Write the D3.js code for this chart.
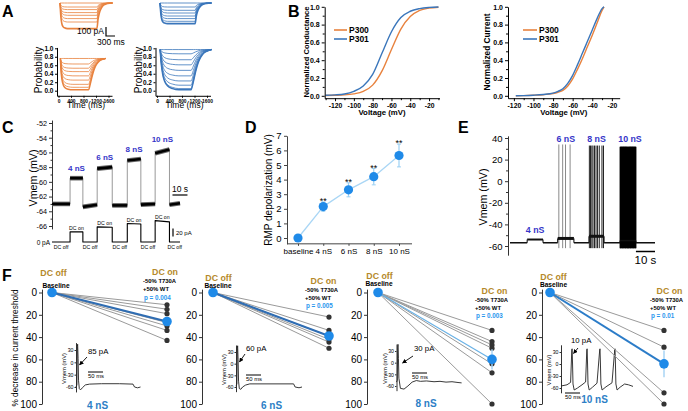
<!DOCTYPE html>
<html><head><meta charset="utf-8">
<script src="https://cdn.jsdelivr.net/npm/d3@7/dist/d3.min.js"></script>
<style>html,body{margin:0;padding:0;background:#fff;}svg{display:block;}</style>
</head><body>
<svg id="chart" width="688" height="411"></svg>
<script>
// ================= DATA =================
// Panel A
const aOrangeCurrent = [0,-40,-66,-96,-123,-156,-190,-256];
const aBlueCurrent   = [0,-40,-73,-100,-130,-156,-183,-206];
const aCurOnsetT = [0,30,60,100,150,250];
const aCurOnsetF = [0,0.55,0.8,0.92,0.97,1];
const aCurTailT  = [0,40,80,130,180,260,360,520];
const aCurTailF  = [1,0.62,0.4,0.24,0.14,0.06,0.02,0];
const aOrangeProb = [0.76,0.63,0.53,0.45,0.35,0.25,0.15,0.08,0.02];
const aBlueProb   = [0.97,0.87,0.73,0.61,0.48,0.35,0.23,0.13,0.05,0.02];
const aProbOnsetT = [0,30,60,100,150,250,400,600];
const aOrangeOnsetF = [0,0.5,0.72,0.86,0.93,0.98,1,1];
const aBlueOnsetF   = [0,0.3,0.5,0.68,0.8,0.91,0.97,1];
const aProbTailT = [0,60,120,180,250,350,450,550];
const aProbTailF = [1,0.8,0.55,0.35,0.2,0.08,0.03,0];
const aProbTicks = [0,0.2,0.4,0.6,0.8,1.0];
const aTimeTicks = [0,400,800,1200,1600];

// Panel B
const bVolt = [-130,-120,-110,-100,-90,-80,-70,-60,-50,-40,-30,-20,-10];
const bCondP300 = [0.004,0.006,0.01,0.022,0.05,0.12,0.28,0.52,0.75,0.89,0.96,0.985,0.995];
const bCondP301 = [0.006,0.01,0.02,0.05,0.11,0.24,0.48,0.72,0.88,0.95,0.98,0.993,0.998];
const bCurVolt = [-118,-110,-100,-90,-80,-75,-70,-65,-60,-55,-50,-45,-40,-35,-30,-28];
const bCurP300 = [0,0.002,0.006,0.012,0.026,0.04,0.06,0.11,0.19,0.3,0.42,0.55,0.68,0.82,0.96,1.0];
const bCurP301 = [0,0.002,0.007,0.015,0.03,0.05,0.08,0.14,0.23,0.35,0.48,0.61,0.74,0.87,0.98,1.0];
const bYTicks = [0,0.2,0.4,0.6,0.8,1.0];
const bXTicks = [-120,-100,-80,-60,-40,-20];
const bSeries = ["P300","P301"];

// Panel C
const cSegStart = [0,12,20.5,30,40,50,59,68.5,78];
const cSegEnd   = [12,20.5,30,40,50,59,68.5,78,85];
const cVStart = [-63,-59.5,-63.4,-58.2,-63.2,-57.1,-63.1,-56.1,-63.1];
const cVEnd   = [-63,-59.5,-63.1,-58.0,-63.2,-56.9,-63.0,-55.6,-62.9];
const cIStart = [0,24,0,36,0,44,0,51,0];
const cIEnd   = [0,24,0,35,0,43,0,48,0];
const cStepLabels = ["","4 nS","","6 nS","","8 nS","","10 nS",""];
const cYTicks = [-66,-64,-62,-60,-58,-56,-54,-52];

// Panel D
const dCats = ["baseline","4 nS","6 nS","8 nS","10 nS"];
const dMean = [0,2.15,3.3,4.2,5.65];
const dErr  = [0,0.32,0.48,0.56,0.78];
const dSig  = ["","**","**","**","**"];
const dYTicks = [0,1,2,3,4,5,6,7];

// Panel E
const eSegStart = [0,9,17.3,25,33.5,41.4,49.3,57.7,66];
const eSegEnd   = [9,17.3,25,33.5,41.4,49.3,57.7,66,76];
const eVmem     = [-57,-54,-57,-53,-57,-51,-57,-55,-57];
const eStepLabels = ["","4 nS","","6 nS","","8 nS","","10 nS",""];
const eSpikes6  = [25.6,27.6,29.1,31.5];
const eSpikes8  = [41.6,42.2,42.9,43.5,44.3,45.1,45.9,46.8,48.2,49.0];
const eSpikes10 = [57.8,58.1,58.4,58.8,59.1,59.4,59.7,60.1,60.4,60.7,61.0,61.4,61.7,62.0,62.3,62.7,63.0,63.3,63.6,64.0,64.3,64.6,64.9,65.3,65.6,65.9];
const eYTicks = [-60,-40,-20,0,20,40];

// Panel F
const fGroups = ["4 nS","6 nS","8 nS","10 nS"];
const fCells = [[11,15,19,27,30,34,43],[22,34,39,42,44.5,50],[34,44,47,50,64,72,100],[34,49,90,100]];
const fMean = [26,39,60,64];
const fErr  = [3,3,9,12];
const fP    = ["p = 0.004","p = 0.005","p = 0.003","p = 0.01"];
const fThresh = ["85 pA","60 pA","30 pA","10 pA"];
const fYTicks = [0,20,40,60,80,100];
const fInsetTicks = [30,0,-30,-60];
const fInset1 = [[0,-60],[3,-55],[4.5,38],[5.5,44],[7,10],[8.5,-45],[11,-64],[15,-67],[21,-62],[31,-55],[45,-53],[85,-52],[145,-52],[190,-53],[195,-60],[205,-62],[215,-60]];
const fInset2 = [[0,-58],[3,-52],[4.5,40],[5.5,46],[7,10],[8.5,-45],[11,-64],[16,-66],[22,-60],[32,-55],[46,-52],[120,-52],[192,-52],[197,-60],[210,-62],[220,-60]];
const fInset3 = [[0,-50],[2.5,-45],[4,40],[5,47],[6.5,10],[8,-40],[13,-66],[25,-68],[38,-60],[52,-50],[66,-46],[80,-48],[100,-47],[125,-49],[145,-48],[165,-50],[185,-49],[205,-51],[217,-52]];
const fInset4 = [[0,-55],[20,-52],[32,-46],[36,35],[37,38],[38.5,0],[40,-50],[44,-65],[55,-60],[70,-52],[82,-45],[86,35],[87,38],[88.5,0],[90,-50],[94,-65],[105,-58],[120,-48],[129,35],[130,38],[131.5,0],[133,-50],[137,-65],[150,-57],[170,-47],[179,35],[180,38],[181.5,0],[183,-50],[187,-65],[197,-58],[212,-50],[225,-52],[240,-56]];
const fInsets = [fInset1,fInset2,fInset3,fInset4];

// ================= DRAWING =================
const FONT = "Arial, 'Liberation Sans', Helvetica, sans-serif";
const ORANGE = "#e8823e", BLUE = "#3a76bb";
const NS_BLUE = "#3535c8", GOLD = "#b5892a", F_BLUE = "#2a96ee", MEAN_BLUE = "#1f8ae8";
const svg = d3.select("#chart").attr("font-family", FONT);
svg.append("rect").attr("width",688).attr("height",411).attr("fill","#fff");

function addText(x,y,s,o={}){
  const t = svg.append("text").attr("x",x).attr("y",y).text(s)
    .attr("font-size",o.size||10).attr("font-weight",o.bold?"bold":"normal")
    .attr("fill",o.fill||"#000").attr("text-anchor",o.anchor||"start").attr("font-family",FONT);
  if(o.rot) t.attr("transform",`rotate(-90,${x},${y})`);
  return t;
}
function drawPath(pts,xs,ys,o={}){
  const gen = d3.line().x(d=>xs(d[0])).y(d=>ys(d[1]));
  if(o.curve) gen.curve(o.curve);
  return svg.append("path").attr("d",gen(pts)).attr("fill","none")
    .attr("stroke",o.color||"#000").attr("stroke-width",o.w||1)
    .attr("stroke-linejoin","round").attr("stroke-linecap",o.cap||"butt");
}
function axisG(axis,tx,ty,o={}){
  const g = svg.append("g").attr("transform",`translate(${tx},${ty})`).call(axis);
  g.attr("font-family",FONT).attr("font-size",o.size||10).attr("font-weight",o.bold?"bold":"normal");
  g.selectAll("text").attr("fill","#000");
  g.selectAll("line,path").attr("stroke",o.color||"#000").attr("stroke-width",o.sw||1);
  if(o.noDomain) g.select(".domain").remove();
  return g;
}
function leftAxis(scale,x,ticks,fmt,o={}){
  const a = d3.axisLeft(scale).tickValues(ticks).tickSize(o.ts==null?3:o.ts).tickSizeOuter(0).tickPadding(o.pad==null?2:o.pad).tickFormat(fmt);
  axisG(a,x,0,o);
  if(o.minor){
    const m = d3.axisLeft(scale).tickValues(o.minor).tickSize(o.mts||1.5).tickSizeOuter(0).tickFormat("");
    axisG(m,x,0,Object.assign({},o,{noDomain:true}));
  }
}
function bottomAxis(scale,y,ticks,fmt,o={}){
  const a = d3.axisBottom(scale).tickValues(ticks).tickSize(o.ts==null?3:o.ts).tickSizeOuter(0).tickPadding(o.pad==null?2:o.pad).tickFormat(fmt);
  axisG(a,0,y,o);
  if(o.minor){
    const m = d3.axisBottom(scale).tickValues(o.minor).tickSize(o.mts||1.5).tickSizeOuter(0).tickFormat("");
    axisG(m,0,y,Object.assign({},o,{noDomain:true}));
  }
}
const str = d => String(d);

// ---------- Panel A ----------
addText(2,17,"A",{size:16,bold:true});
function drawCurrents(levels,x0,stepMs,tailScale,color){
  const xs = d3.scaleLinear().domain([0,1000]).range([x0,x0+30]);
  const ys = d3.scaleLinear().domain([0,-100]).range([3,13]);
  levels.forEach((L,i)=>{
    const pts = [];
    aCurOnsetT.forEach((t,k)=>pts.push([t,L*aCurOnsetF[k]]));
    pts.push([stepMs,L]);
    aCurTailT.slice(1).forEach((t,k)=>pts.push([stepMs+t*tailScale,L*aCurTailF[k+1]]));
    drawPath(pts,xs,ys,{color,w:i===levels.length-1?1.6:0.8,curve:d3.curveMonotoneX});
  });
}
drawCurrents(aOrangeCurrent,60,1230,1.0,ORANGE);
drawCurrents(aBlueCurrent,160,1170,1.05,BLUE);
svg.append("path").attr("d","M106,27V36H115").attr("fill","none").attr("stroke","#000").attr("stroke-width",1.2);
addText(104,34,"100 pA",{size:8.5,anchor:"end"});
addText(97,44.5,"300 ms",{size:8.5});

function probPanel(levels,onsetF,axisX,tStart,tEnd,tailScale,color,titleX){
  const xs = d3.scaleLinear().domain([0,1600]).range([axisX+1.5,axisX+51.5]);
  const ys = d3.scaleLinear().domain([0,1]).range([90.7,48.3]);
  const p0 = levels[0];
  levels.forEach((L,i)=>{
    const pts = [];
    aProbOnsetT.forEach((t,k)=>pts.push([tStart+t,p0+(L-p0)*onsetF[k]]));
    pts.push([tEnd,L]);
    aProbTailT.slice(1).forEach((t,k)=>pts.push([tEnd+t*tailScale,L+(p0-L)*(1-aProbTailF[k+1])]));
    drawPath(pts,xs,ys,{color,w:(i===levels.length-1)?1.5:0.8,curve:d3.curveMonotoneX});
  });
  const yAx = d3.scaleLinear().domain([-0.12,1.02]).range([ys(-0.12),ys(1.02)]);
  leftAxis(yAx,axisX,aProbTicks,d3.format(".1f"),{size:6.5,bold:true,ts:2,pad:1.5});
  const xAx = d3.scaleLinear().domain([xs.invert(axisX),xs.invert(axisX+55)]).range([axisX,axisX+55]);
  bottomAxis(xAx,ys(-0.12),aTimeTicks,str,{size:4.9,bold:true,ts:2,pad:1.5});
  addText(titleX,70,"Probability",{size:10,rot:true,anchor:"middle"});
  addText(axisX+29,108,"Time (ms)",{size:8.5,anchor:"middle"});
}
probPanel(aOrangeProb,aOrangeOnsetF,57,60,960,1.0,ORANGE,42);
probPanel(aBlueProb,aBlueOnsetF,155.5,100,1090,1.2,BLUE,141.5);

// ---------- Panel B ----------
addText(288,16.5,"B",{size:16,bold:true});
function bPanel(volt,s1,s2,xDom,xRange,ytitle,ytitleX,ytSize,legX,legX2){
  const xs = d3.scaleLinear().domain(xDom).range(xRange);
  const ys = d3.scaleLinear().domain([0,1]).range([95.8,6.8]);
  drawPath(volt.map((v,i)=>[v,s1[i]]),xs,ys,{color:ORANGE,w:1.4,curve:d3.curveMonotoneX});
  drawPath(volt.map((v,i)=>[v,s2[i]]),xs,ys,{color:BLUE,w:1.4,curve:d3.curveMonotoneX});
  const yAx = d3.scaleLinear().domain([-0.027,1.0]).range([ys(-0.027),ys(1.0)]);
  leftAxis(yAx,xRange[0],bYTicks,d3.format(".1f"),{size:7,bold:true,ts:3,pad:2,minor:[0.1,0.3,0.5,0.7,0.9],mts:2});
  const minorX = d3.range(Math.ceil(xDom[0]/10)*10, xDom[1], 10).filter(v=>v%20!==0);
  bottomAxis(xs,ys(-0.027),bXTicks,str,{size:6.8,bold:true,ts:3,pad:2,minor:minorX,mts:2});
  addText(ytitleX,52,ytitle,{size:ytSize,bold:true,rot:true,anchor:"middle"});
  addText((xRange[0]+xRange[1])/2,114.5,"Voltage (mV)",{size:7.8,bold:true,anchor:"middle"});
  [ORANGE,BLUE].forEach((c,i)=>{
    const y = 30+i*9;
    svg.append("line").attr("x1",legX).attr("x2",legX2).attr("y1",y).attr("y2",y).attr("stroke",c).attr("stroke-width",1.6);
    addText(legX2+2,y+3,bSeries[i],{size:8.5,bold:true});
  });
}
bPanel(bVolt,bCondP300,bCondP301,[-131,-9],[324.7,439.4],"Normalized Conductance",308.5,7.6,334,347);
bPanel(bCurVolt,bCurP300,bCurP301,[-126,-12],[508,619.7],"Normalized Current",490,8.3,523,537);

// ---------- Panel C ----------
addText(2,133,"C",{size:16,bold:true});
{
  const xs = d3.scaleLinear().domain([0,85]).range([52,180]);
  const ys = d3.scaleLinear().domain([-66,-52]).range([226,123]);
  const yAx = d3.scaleLinear().domain([-66.4,-51.6]).range([ys(-66.4),ys(-51.6)]);
  leftAxis(yAx,52,cYTicks,str,{size:7.2,ts:3,pad:2,minor:[-65,-63,-61,-59,-57,-55,-53],mts:1.5,color:"#333"});
  addText(37,178,"Vmem (mV)",{size:10.7,rot:true,anchor:"middle"});
  for(let i=1;i<cSegStart.length;i++){
    drawPath([[cSegStart[i],cVEnd[i-1]],[cSegStart[i],cVStart[i]]],xs,ys,{color:"#999",w:1});
  }
  cSegStart.forEach((s,i)=>{
    drawPath([[s,cVStart[i]],[cSegEnd[i],cVEnd[i]]],xs,ys,{color:"#666",w:4.6});
    drawPath([[s,cVStart[i]],[cSegEnd[i],cVEnd[i]]],xs,ys,{color:"#000",w:2.6});
    if(cStepLabels[i]) addText(xs((s+cSegEnd[i])/2),ys(Math.max(cVStart[i],cVEnd[i]))-7.5,cStepLabels[i],{size:8,bold:true,fill:NS_BLUE,anchor:"middle"});
  });
  const yi = d3.scaleLinear().domain([0,50]).range([242,221]);
  const ipts = [];
  cSegStart.forEach((s,i)=>{ ipts.push([s,cIStart[i]]); ipts.push([cSegEnd[i],cIEnd[i]]); });
  drawPath(ipts,xs,yi,{color:"#000",w:1.1});
  cSegStart.forEach((s,i)=>{
    const cx = xs((s+cSegEnd[i])/2);
    if(cIStart[i]>0) addText(cx,yi(Math.max(cIStart[i],cIEnd[i]))-2,"DC on",{size:5.2,anchor:"middle"});
    else addText(cx,yi(0)+6.5,"DC off",{size:5.2,anchor:"middle"});
  });
  addText(50,244.5,"0 pA",{size:6.5,anchor:"end"});
  svg.append("line").attr("x1",xs(80)).attr("x2",xs(80)+15).attr("y1",195).attr("y2",195).attr("stroke","#000").attr("stroke-width",1.2);
  addText(xs(80)+7.5,191.5,"10 s",{size:8.5,anchor:"middle"});
  svg.append("line").attr("x1",173).attr("x2",173).attr("y1",228.5).attr("y2",236.5).attr("stroke","#000").attr("stroke-width",1.2);
  addText(176,235,"20 pA",{size:6});
}

// ---------- Panel D ----------
addText(245,133,"D",{size:16,bold:true});
{
  const xs = d3.scalePoint().domain(dCats).range([298,399]);
  const ys = d3.scaleLinear().domain([0,7]).range([238,135.8]);
  const yAx = d3.scaleLinear().domain([-0.4,7]).range([ys(-0.4),ys(7)]);
  leftAxis(yAx,287,dYTicks,str,{size:9.5,ts:3,pad:2.5,color:"#444"});
  svg.append("line").attr("x1",287).attr("x2",412).attr("y1",ys(-0.4)).attr("y2",ys(-0.4)).attr("stroke","#444");
  const xa = d3.axisBottom(xs).tickSize(2).tickSizeOuter(0).tickPadding(2);
  const g = axisG(xa,0,ys(-0.4),{size:8,color:"#444"});
  g.select(".domain").remove();
  addText(272,190,"RMP depolarization (mV)",{size:10,rot:true,anchor:"middle"});
  drawPath(dCats.map((c,i)=>[c,dMean[i]]),xs,ys,{color:"#a9d6f5",w:1.3});
  dCats.forEach((c,i)=>{
    if(dErr[i]>0){
      drawPath([[c,dMean[i]-dErr[i]],[c,dMean[i]+dErr[i]]],xs,ys,{color:"#9cd0f3",w:1.2});
      [dMean[i]+dErr[i],dMean[i]-dErr[i]].forEach(v=>{
        svg.append("line").attr("x1",xs(c)-2).attr("x2",xs(c)+2).attr("y1",ys(v)).attr("y2",ys(v)).attr("stroke","#9cd0f3");
      });
    }
    svg.append("circle").attr("cx",xs(c)).attr("cy",ys(dMean[i])).attr("r",4.6).attr("fill",MEAN_BLUE);
    if(dSig[i]) addText(xs(c),ys(dMean[i]+dErr[i])+2,dSig[i],{size:9,anchor:"middle"});
  });
}

// ---------- Panel E ----------
addText(458,133,"E",{size:16,bold:true});
{
  const xs = d3.scaleLinear().domain([0,76]).range([510,655]);
  const ys = d3.scaleLinear().domain([-60,40]).range([246,138]);
  const yAx = d3.scaleLinear().domain([-68.5,42]).range([ys(-68.5),ys(42)]);
  leftAxis(yAx,508,eYTicks,str,{size:9.5,ts:3,pad:2.5,minor:[-50,-30,-10,10,30],mts:2,color:"#333"});
  addText(487,197,"Vmem (mV)",{size:10.7,rot:true,anchor:"middle"});
  const spikeSets = [[eSpikes6,"#8a8a8a",1,34],[eSpikes8,"#222",1,33],[eSpikes10,"#000",1.4,32]];
  spikeSets.forEach(([arr,col,w,top])=>{
    arr.forEach(t=>drawPath([[t,-62],[t,top]],xs,ys,{color:col,w}));
  });
  for(let i=1;i<eSegStart.length;i++){
    drawPath([[eSegStart[i],eVmem[i-1]],[eSegStart[i],eVmem[i]]],xs,ys,{color:"#000",w:1});
  }
  eSegStart.forEach((s,i)=>{
    const w = (i===3||i===5)?3:(i===1?2:1.5);
    drawPath([[s,eVmem[i]],[eSegEnd[i],eVmem[i]]],xs,ys,{color:"#111",w});
    if(eStepLabels[i]){
      const y = i===1 ? ys(eVmem[i])-7 : 141.5;
      addText(xs((s+eSegEnd[i])/2)+(i===7?2:0),y,eStepLabels[i],{size:8.8,bold:true,fill:NS_BLUE,anchor:"middle"});
    }
  });
  svg.append("line").attr("x1",xs(66)).attr("x2",xs(76)).attr("y1",251.5).attr("y2",251.5).attr("stroke","#000").attr("stroke-width",1.5);
  addText(xs(71),264,"10 s",{size:11.5,anchor:"middle"});
}

// ---------- Panel F ----------
addText(2,281,"F",{size:16,bold:true});
const fLayout = [
  {ax:42, bx:52, ox:167, offX:53.5, offY:276, blX:56, blY:288, onX:165, onY:275, txX:143, txY:283, lx:97.5, ly:409,
   ix:76, i30:350, i60:387, tx:88, ty:354, ar:[87,357,79.5,365], sb:[88,372,378]},
  {ax:202, bx:213, ox:329, offX:218.5, offY:281, blX:218, blY:288, onX:323.5, onY:284, txX:305, txY:291.7, lx:271.5, ly:409,
   ix:236, i30:352, i60:387, tx:246, ty:351, ar:[245,354,239.5,362], sb:[246,375,381]},
  {ax:367, bx:378, ox:492, offX:379.5, offY:279, blX:379, blY:285.7, onX:494.5, onY:294, txX:475, txY:301.7, lx:426, ly:406.7,
   ix:396.5, i30:351, i60:386, tx:414, ty:351, ar:[413,356,402.5,363], sb:[412,373,379]},
  {ax:542, bx:550, ox:664, offX:553.5, offY:280, blX:553.5, blY:286.7, onX:669.5, onY:294, txX:650, txY:301.7, lx:594.5, ly:403,
   ix:561, i30:352, i60:388, tx:571, ty:343, ar:[578,348,573.5,353.5], sb:[565,393,398.5]}
];
addText(18,348,"% decrease in current threshold",{size:8.3,rot:true,anchor:"middle"});
svg.append("defs").append("marker").attr("id","arr").attr("viewBox","0 0 10 10").attr("refX",9).attr("refY",5)
  .attr("markerWidth",5).attr("markerHeight",5).attr("orient","auto")
  .append("path").attr("d","M0,0L10,5L0,10z").attr("fill","#000");
fGroups.forEach((grp,gi)=>{
  const L = fLayout[gi];
  const ys = d3.scaleLinear().domain([0,100]).range([292.5,404]);
  const yAx = d3.scaleLinear().domain([-3,100]).range([ys(-3),ys(100)]);
  leftAxis(yAx,L.ax,fYTicks,str,{size:10,ts:3,pad:2,color:"#333"});
  const xs = d3.scalePoint().domain(["off","on"]).range([L.bx,L.ox]);
  const iy = d3.scaleLinear().domain([-60,30]).range([L.i60,L.i30]);
  const ix = d3.scaleLinear().domain([0,250]).range([L.ix,L.ix+75]);
  const iyAx = d3.scaleLinear().domain([-72,48]).range([iy(-72),iy(48)]);
  leftAxis(iyAx,L.ix,fInsetTicks,str,{size:5.2,ts:1.5,pad:1,color:"#333"});
  addText(L.ix-10,(L.i30+L.i60)/2,"Vmem (mV)",{size:5.8,rot:true,anchor:"middle"});
  drawPath(fInsets[gi],ix,iy,{color:"#222",w:0.9});
  addText(L.tx,L.ty,fThresh[gi],{size:7.8});
  svg.append("line").attr("x1",L.ar[0]).attr("y1",L.ar[1]).attr("x2",L.ar[2]).attr("y2",L.ar[3]).attr("stroke","#000").attr("stroke-width",0.9).attr("marker-end","url(#arr)");
  svg.append("line").attr("x1",L.sb[0]).attr("x2",L.sb[0]+15).attr("y1",L.sb[1]).attr("y2",L.sb[1]).attr("stroke","#000").attr("stroke-width",1);
  addText(L.sb[0],L.sb[2],"50 ms",{size:5.9});
  fCells[gi].forEach(v=>{
    drawPath([["off",0],["on",v]],xs,ys,{color:"#9a9a9a",w:1});
  });
  fCells[gi].forEach(v=>{
    svg.append("circle").attr("cx",xs("on")).attr("cy",ys(v)).attr("r",2.6).attr("fill","#333");
  });
  const meanCol = ["#2f6db3","#2f6db3","#6ab2e6","#2b7cc8"][gi];
  drawPath([["off",0],["on",fMean[gi]]],xs,ys,{color:meanCol,w:gi===2?1.2:2});
  drawPath([["on",fMean[gi]-fErr[gi]],["on",fMean[gi]+fErr[gi]]],xs,ys,{color:"#a8d5f5",w:1.5});
  svg.append("circle").attr("cx",xs("on")).attr("cy",ys(fMean[gi])).attr("r",4.8).attr("fill",MEAN_BLUE);
  svg.append("circle").attr("cx",xs("off")).attr("cy",ys(0)).attr("r",4.8).attr("fill",MEAN_BLUE);
  addText(L.offX,L.offY,"DC off",{size:8.8,bold:true,fill:GOLD,anchor:"middle"});
  addText(L.blX,L.blY,"Baseline",{size:6.6,bold:true,anchor:"middle"});
  addText(L.onX,L.onY,"DC on",{size:8.8,bold:true,fill:GOLD,anchor:"middle"});
  addText(L.txX,L.txY,"-50% T730A",{size:5.9,bold:true});
  addText(L.txX,L.txY+8.3,"+50% WT",{size:5.9,bold:true});
  addText(L.txX+1,L.txY+16.6,fP[gi],{size:6.3,bold:true,fill:F_BLUE});
  addText(L.lx,L.ly,grp,{size:10,bold:true,fill:"#2d80c6",anchor:"middle"});
});
</script></body></html>
